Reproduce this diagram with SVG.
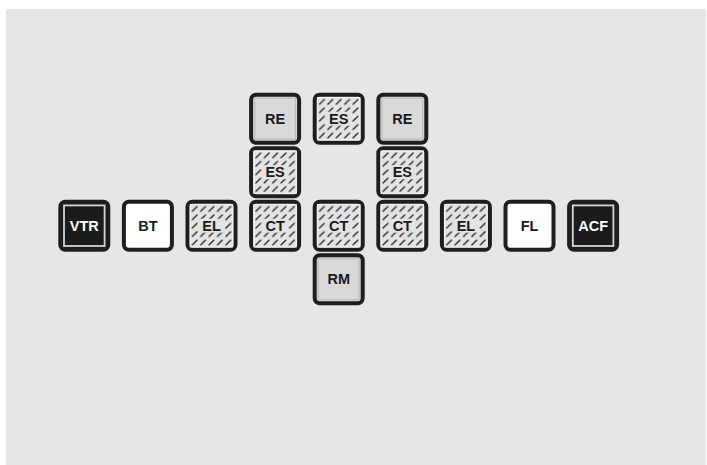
<svg xmlns="http://www.w3.org/2000/svg" width="707" height="465" viewBox="0 0 707 465">
<style>
.frame{stroke:#1e1e1e;stroke-width:4}
.dark{fill:#1b1b1b}
.white{fill:#ffffff}
.gray{fill:#d9d9d9}
.hat{fill:#e3e3e3}
.ring{fill:none;stroke:#d6d6d6;stroke-width:1.8}
.inner{fill:none;stroke:#bcbcbc;stroke-width:1.2}
.hin{fill:none;stroke:#f2f2f2;stroke-width:1}
.patch{fill:#e3e3e3}
.lbl{font-family:"Liberation Sans",Arial,sans-serif;font-weight:bold;font-size:14.5px;text-anchor:middle;fill:#1a1a1a}
.lbl.w{fill:#ffffff}
</style>
<defs>
<pattern id="hatch" patternUnits="userSpaceOnUse" x="3" y="3" width="8.4" height="8.4">
<line x1="1.8" y1="6.6" x2="6.6" y2="1.8" stroke="#1e1e1e" stroke-width="1.25" stroke-linecap="round"/>
</pattern>
</defs>
<rect x="0" y="0" width="707" height="465" fill="#ffffff"/>
<rect x="6" y="9" width="700" height="456" fill="#e6e6e6"/>
<g id="connectors"></g>
<g id="n-re1" transform="translate(251.1,94.7)"><rect class="frame gray" width="48" height="48" rx="5"/><rect class="inner" x="3.6" y="3.6" width="40.8" height="40.8"/><text class="lbl" x="24" y="29">RE</text></g>
<g id="n-es-top" transform="translate(314.7,94.7)"><rect class="frame hat" width="48" height="48" rx="5"/><rect class="hin" x="2.8" y="2.8" width="42.4" height="42.4"/><rect x="3" y="3" width="42" height="42" fill="url(#hatch)"/><rect class="patch" x="11" y="17" width="26" height="14"/><text class="lbl" x="24" y="29">ES</text></g>
<g id="n-re2" transform="translate(378.3,94.7)"><rect class="frame gray" width="48" height="48" rx="5"/><rect class="inner" x="3.6" y="3.6" width="40.8" height="40.8"/><text class="lbl" x="24" y="29">RE</text></g>
<g id="n-es1" transform="translate(251.1,148.2)"><rect class="frame hat" width="48" height="48" rx="5"/><rect class="hin" x="2.8" y="2.8" width="42.4" height="42.4"/><rect x="3" y="3" width="42" height="42" fill="url(#hatch)"/><rect class="patch" x="11" y="17" width="26" height="14"/><text class="lbl" x="24" y="29">ES</text></g>
<g id="n-es2" transform="translate(378.3,148.2)"><rect class="frame hat" width="48" height="48" rx="5"/><rect class="hin" x="2.8" y="2.8" width="42.4" height="42.4"/><rect x="3" y="3" width="42" height="42" fill="url(#hatch)"/><rect class="patch" x="11" y="17" width="26" height="14"/><text class="lbl" x="24" y="29">ES</text></g>
<g id="n-vtr" transform="translate(60.3,201.7)"><rect class="frame dark" width="48" height="48" rx="5"/><rect class="ring" x="3.7" y="3.7" width="40.6" height="40.6"/><text class="lbl w" x="24" y="29">VTR</text></g>
<g id="n-bt" transform="translate(123.9,201.7)"><rect class="frame white" width="48" height="48" rx="5"/><text class="lbl" x="24" y="29">BT</text></g>
<g id="n-el1" transform="translate(187.5,201.7)"><rect class="frame hat" width="48" height="48" rx="5"/><rect class="hin" x="2.8" y="2.8" width="42.4" height="42.4"/><rect x="3" y="3" width="42" height="42" fill="url(#hatch)"/><rect class="patch" x="11" y="17" width="26" height="14"/><text class="lbl" x="24" y="29">EL</text></g>
<g id="n-ct1" transform="translate(251.1,201.7)"><rect class="frame hat" width="48" height="48" rx="5"/><rect class="hin" x="2.8" y="2.8" width="42.4" height="42.4"/><rect x="3" y="3" width="42" height="42" fill="url(#hatch)"/><rect class="patch" x="11" y="17" width="26" height="14"/><text class="lbl" x="24" y="29">CT</text></g>
<g id="n-ct2" transform="translate(314.7,201.7)"><rect class="frame hat" width="48" height="48" rx="5"/><rect class="hin" x="2.8" y="2.8" width="42.4" height="42.4"/><rect x="3" y="3" width="42" height="42" fill="url(#hatch)"/><rect class="patch" x="11" y="17" width="26" height="14"/><text class="lbl" x="24" y="29">CT</text></g>
<g id="n-ct3" transform="translate(378.3,201.7)"><rect class="frame hat" width="48" height="48" rx="5"/><rect class="hin" x="2.8" y="2.8" width="42.4" height="42.4"/><rect x="3" y="3" width="42" height="42" fill="url(#hatch)"/><rect class="patch" x="11" y="17" width="26" height="14"/><text class="lbl" x="24" y="29">CT</text></g>
<g id="n-el2" transform="translate(441.9,201.7)"><rect class="frame hat" width="48" height="48" rx="5"/><rect class="hin" x="2.8" y="2.8" width="42.4" height="42.4"/><rect x="3" y="3" width="42" height="42" fill="url(#hatch)"/><rect class="patch" x="11" y="17" width="26" height="14"/><text class="lbl" x="24" y="29">EL</text></g>
<g id="n-fl" transform="translate(505.5,201.7)"><rect class="frame white" width="48" height="48" rx="5"/><text class="lbl" x="24" y="29">FL</text></g>
<g id="n-acf" transform="translate(569.1,201.7)"><rect class="frame dark" width="48" height="48" rx="5"/><rect class="ring" x="3.7" y="3.7" width="40.6" height="40.6"/><text class="lbl w" x="24" y="29">ACF</text></g>
<g id="n-rm" transform="translate(314.7,255.2)"><rect class="frame gray" width="48" height="48" rx="5"/><rect class="inner" x="3.6" y="3.6" width="40.8" height="40.8"/><text class="lbl" x="24" y="29">RM</text></g>
</svg>
